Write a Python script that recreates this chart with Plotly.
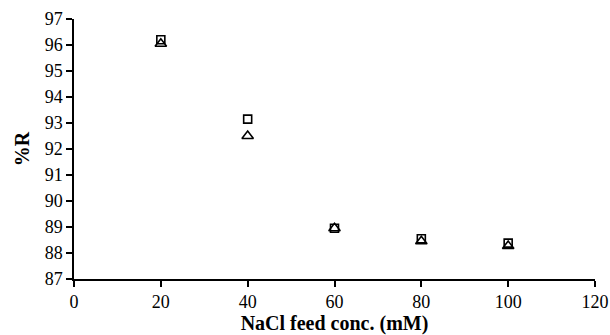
import plotly.graph_objects as go

# NaCl feed concentration (mM) and salt rejection (%R) for two series
conc = [20, 40, 60, 80, 100]
rej_square = [96.2, 93.15, 88.95, 88.55, 88.38]
rej_triangle = [96.05, 92.5, 88.95, 88.45, 88.27]

fig = go.Figure()
fig.add_trace(go.Scatter(
    x=conc, y=rej_square, mode="markers", name="square",
    marker=dict(symbol="square-open", size=8, color="black", line=dict(width=1.6, color="black")),
))
fig.add_trace(go.Scatter(
    x=conc, y=rej_triangle, mode="markers", name="triangle",
    marker=dict(symbol="triangle-up-open", size=10, color="black", line=dict(width=1.6, color="black")),
))

serif = "Liberation Serif, Times New Roman, serif"
tick_font = dict(family=serif, size=18, color="black")
title_font = dict(family=serif, size=20, color="black")

fig.update_layout(
    width=610, height=335,
    margin=dict(l=74, r=15, t=19, b=56),
    paper_bgcolor="white", plot_bgcolor="white",
    showlegend=False,
    font=tick_font,
    xaxis=dict(
        range=[0, 120], tickvals=[0, 20, 40, 60, 80, 100, 120],
        showline=True, linecolor="black", linewidth=1.5,
        ticks="outside", ticklen=6, tickwidth=1.5, tickcolor="black",
        showgrid=False, zeroline=False, automargin=False,
        tickfont=tick_font,
        title=dict(text="<b>NaCl feed conc. (mM)</b>", font=title_font, standoff=6),
    ),
    yaxis=dict(
        range=[87, 97], dtick=1,
        showline=True, linecolor="black", linewidth=1.5,
        ticks="outside", ticklen=6, tickwidth=1.5, tickcolor="black",
        showgrid=False, zeroline=False, automargin=False,
        tickfont=tick_font,
        title=dict(text="<b>%R</b>", font=title_font, standoff=10),
    ),
)

fig.write_html("out.html")
